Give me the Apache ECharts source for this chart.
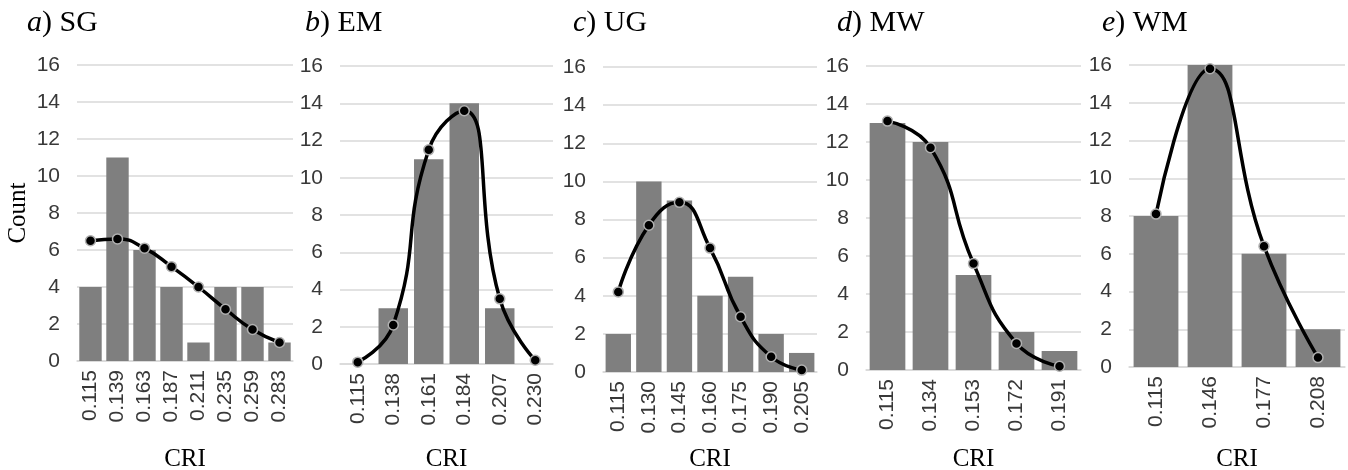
<!DOCTYPE html>
<html>
<head>
<meta charset="utf-8">
<script src="https://cdn.jsdelivr.net/npm/echarts@6/dist/echarts.min.js"></script>
<style>
html,body{margin:0;padding:0;background:#fff;}
#c{width:1348px;height:470px;}
</style>
</head>
<body>
<div id="c"></div>
<script>
// ---- data ----
const panelLetters = ['a', 'b', 'c', 'd', 'e'];
const panelNames = ['SG', 'EM', 'UG', 'MW', 'WM'];

const catsA = ['0.115', '0.139', '0.163', '0.187', '0.211', '0.235', '0.259', '0.283'];
const countsA = [4, 11, 6, 4, 1, 4, 4, 1];
const curveA = [6.5, 6.6, 6.1, 5.1, 4.0, 2.8, 1.7, 1.0];

const catsB = ['0.115', '0.138', '0.161', '0.184', '0.207', '0.230'];
const countsB = [0, 3, 11, 14, 3, 0];
const curveB = [0.1, 2.1, 11.5, 13.6, 3.5, 0.2];

const catsC = ['0.115', '0.130', '0.145', '0.160', '0.175', '0.190', '0.205'];
const countsC = [2, 10, 9, 4, 5, 2, 1];
const curveC = [4.2, 7.7, 8.9, 6.5, 2.9, 0.8, 0.1];

const catsD = ['0.115', '0.134', '0.153', '0.172', '0.191'];
const countsD = [13, 12, 5, 2, 1];
const curveD = [13.1, 11.7, 5.6, 1.4, 0.2];

const catsE = ['0.115', '0.146', '0.177', '0.208'];
const countsE = [8, 16, 6, 2];
const curveE = [8.1, 15.8, 6.4, 0.5];

const yTicks = [0, 2, 4, 6, 8, 10, 12, 14, 16];
const xTitle = 'CRI';
const yTitle = 'Count';

// ---- layout ----
const cats = [catsA, catsB, catsC, catsD, catsE];
const counts = [countsA, countsB, countsC, countsD, countsE];
const curves = [curveA, curveB, curveC, curveD, curveE];
const grids = [
  {left: 77, width: 216, top: 65, height: 296},
  {left: 340, width: 213, top: 66, height: 298},
  {left: 603, width: 214, top: 67, height: 305},
  {left: 866, width: 215, top: 66, height: 304},
  {left: 1129, width: 216, top: 65, height: 302}
];
const titleX = [22, 300, 568, 832, 1097];

const serif = '"Liberation Serif", "Times New Roman", serif';
const sans = '"Liberation Sans", Arial, sans-serif';

const option = {
  backgroundColor: '#fff',
  animation: false,
  title: panelLetters.map((l, i) => ({
    text: '{i|' + l + '}) ' + panelNames[i],
    left: titleX[i],
    top: 3,
    textStyle: {
      fontFamily: serif, fontSize: 30, fontWeight: 'normal', color: '#000',
      rich: {i: {fontFamily: serif, fontSize: 30, fontStyle: 'italic', color: '#000'}}
    }
  })),
  grid: grids.map(g => Object.assign({containLabel: false, outerBoundsMode: 'none'}, g)),
  xAxis: cats.map((c, i) => ({
    type: 'category', gridIndex: i, data: c,
    axisTick: {show: false},
    axisLine: {show: true, lineStyle: {color: '#d9d9d9', width: 1.5}},
    axisLabel: {interval: 0, rotate: 90, fontFamily: sans, fontSize: 21, color: '#383838', margin: 9},
    name: xTitle, nameLocation: 'middle', nameMoveOverlap: false,
    nameGap: 459 - (grids[i].top + grids[i].height),
    nameTextStyle: {fontFamily: serif, fontSize: 25, color: '#000', verticalAlign: 'middle'}
  })),
  yAxis: cats.map((c, i) => ({
    type: 'value', gridIndex: i, min: yTicks[0], max: yTicks[yTicks.length - 1], interval: 2,
    axisLine: {show: false}, axisTick: {show: false},
    splitLine: {lineStyle: {color: '#d9d9d9', width: 1.5}},
    axisLabel: {fontFamily: sans, fontSize: 21, color: '#383838', margin: 17},
    name: i === 0 ? yTitle : '', nameLocation: 'middle', nameGap: 46, nameRotate: 90,
    nameMoveOverlap: false,
    nameTextStyle: {fontFamily: serif, fontSize: 25, color: '#000'}
  })),
  series: []
};

for (let i = 0; i < 5; i++) {
  option.series.push({
    type: 'bar', xAxisIndex: i, yAxisIndex: i, data: counts[i],
    barCategoryGap: '17%',
    itemStyle: {color: '#7f7f7f'},
    silent: true
  });
  option.series.push({
    type: 'line', xAxisIndex: i, yAxisIndex: i, data: curves[i],
    smooth: 0.5,
    symbol: 'circle', symbolSize: 10,
    lineStyle: {color: '#000', width: 3.5},
    itemStyle: {color: '#000', borderColor: '#b0b0b0', borderWidth: 1.5},
    z: 5, silent: true
  });
}

const chart = echarts.init(document.getElementById('c'), null, {renderer: 'canvas'});
chart.setOption(option);
</script>
</body>
</html>
